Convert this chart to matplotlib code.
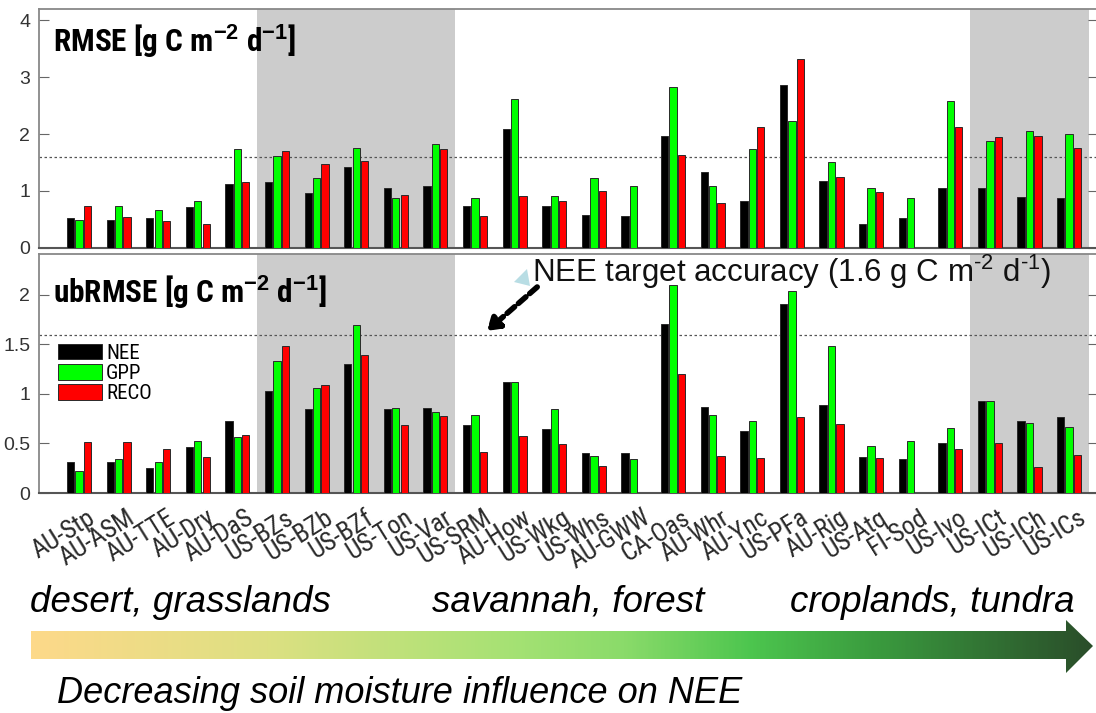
import os
import numpy as np
import matplotlib
matplotlib.use("Agg")
import matplotlib.pyplot as plt
from matplotlib import font_manager as fm
from matplotlib.patches import Polygon
from matplotlib.colors import LinearSegmentedColormap
from matplotlib.transforms import ScaledTranslation

# ---------------- data ----------------
sites = ["AU-Stp", "AU-ASM", "AU-TTE", "AU-Dry", "AU-DaS", "US-BZs", "US-BZb", "US-BZf",
         "US-Ton", "US-Var", "US-SRM", "AU-How", "US-Wkg", "US-Whs", "AU-GWW", "CA-Oas",
         "AU-Whr", "AU-Ync", "US-PFa", "AU-Rig", "US-Atq", "FI-Sod", "US-Ivo", "US-ICt",
         "US-ICh", "US-ICs"]

rmse_nee = [0.52, 0.48, 0.52, 0.72, 1.12, 1.15, 0.96, 1.42, 1.05, 1.08, 0.73, 2.09, 0.73,
            0.58, 0.55, 1.96, 1.33, 0.83, 2.87, 1.18, 0.41, 0.52, 1.05, 1.05, 0.89, 0.87]
rmse_gpp = [0.49, 0.73, 0.67, 0.83, 1.73, 1.62, 1.22, 1.75, 0.88, 1.83, 0.88, 2.62, 0.91,
            1.23, 1.08, 2.83, 1.08, 1.73, 2.23, 1.51, 1.05, 0.87, 2.59, 1.87, 2.05, 2.00]
rmse_reco = [0.73, 0.54, 0.47, 0.41, 1.16, 1.70, 1.47, 1.53, 0.92, 1.74, 0.55, 0.91, 0.82,
             0.99, np.nan, 1.63, 0.79, 2.13, 3.32, 1.25, 0.98, np.nan, 2.13, 1.95, 1.97, 1.75]

ub_nee = [0.31, 0.31, 0.25, 0.46, 0.73, 1.03, 0.85, 1.30, 0.85, 0.86, 0.69, 1.12, 0.65,
          0.40, 0.40, 1.71, 0.87, 0.63, 1.91, 0.89, 0.36, 0.34, 0.50, 0.93, 0.73, 0.77]
ub_gpp = [0.22, 0.34, 0.31, 0.52, 0.57, 1.33, 1.06, 1.70, 0.86, 0.82, 0.79, 1.12, 0.85,
          0.37, 0.34, 2.10, 0.79, 0.73, 2.04, 1.48, 0.47, 0.52, 0.66, 0.93, 0.71, 0.67]
ub_reco = [0.51, 0.51, 0.44, 0.36, 0.59, 1.48, 1.09, 1.39, 0.69, 0.78, 0.41, 0.58, 0.49,
           0.27, np.nan, 1.20, 0.37, 0.35, 0.77, 0.70, 0.35, np.nan, 0.44, 0.50, 0.26, 0.38]

series_names = ["NEE", "GPP", "RECO"]
series_colors = ["#000000", "#00ff00", "#ff0000"]
target = 1.6
shaded_blocks = [("US-BZs", "US-Var"), ("US-ICt", "US-ICs")]
zone_labels = ["desert, grasslands", "savannah, forest", "croplands, tundra"]
gradient_label = "Decreasing soil moisture influence on NEE"

# ---------------- fonts ----------------
plt.rcParams["font.family"] = ["Liberation Sans", "DejaVu Sans"]
plt.rcParams["mathtext.fontset"] = "custom"
plt.rcParams["mathtext.rm"] = "Liberation Sans"
plt.rcParams["mathtext.bf"] = "Liberation Sans:bold"


def _weight(f):
    w = f.weight
    if isinstance(w, str):
        w = fm.weight_dict.get(w, 400)
    return w


def find_condensed(bold):
    prefs = ["liberation sans narrow", "arial narrow", "roboto condensed", "open sans condensed",
             "noto sans", "dejavu sans", "lato", "inter"]
    best, best_rank = None, 99
    for f in fm.fontManager.ttflist:
        base = os.path.basename(f.fname).lower()
        nm = f.name.lower() + " " + base
        cond = ("narrow" in nm or ("condensed" in nm and "extra" not in nm and "semi" not in nm
                                   and "ultra" not in nm) or f.stretch == "condensed")
        if not cond or "mono" in nm or "serif" in nm.replace("sans", "") or "italic" in nm \
                or "oblique" in nm or f.style != "normal":
            continue
        if (_weight(f) >= 600) != bold:
            continue
        if not bold and _weight(f) < 350:
            continue
        if bold and _weight(f) > 750:
            continue
        rank = next((i for i, p in enumerate(prefs) if p in nm), 50)
        if rank < best_rank:
            best, best_rank = f.fname, rank
    return best


COND_REG = find_condensed(False)
COND_BOLD = find_condensed(True)


def cprop(size, bold=False):
    path = COND_BOLD if bold else COND_REG
    if path:
        return fm.FontProperties(fname=path, size=size)
    return fm.FontProperties(family="Liberation Sans", weight="bold" if bold else "normal",
                             size=size * 0.86)

# ---------------- layout ----------------
W, H = 1096, 713
fig = plt.figure(figsize=(W / 100, H / 100), dpi=100)


def box(l, t, r, b):
    return [l / W, 1 - b / H, (r - l) / W, (b - t) / H]


ax1 = fig.add_axes(box(38.6, 9, 1098, 247.7))
ax2 = fig.add_axes(box(38.6, 254.3, 1098, 493))

x = np.arange(len(sites))
off, bw = 0.212, 0.185

panels = [(ax1, (rmse_nee, rmse_gpp, rmse_reco), 4.2, [0, 1, 2, 3, 4], ["0", "1", "2", "3", "4"]),
          (ax2, (ub_nee, ub_gpp, ub_reco), 2.41, [0, 0.5, 1, 1.5, 2], ["0", "0.5", "1", "1.5", "2"])]

for ax, vals, ytop, yt, ytl in panels:
    for a, b in shaded_blocks:
        ax.axvspan(sites.index(a) - 0.5, sites.index(b) + 0.5, color="#cccccc", lw=0, zorder=0)
    for k, (v, c, n) in enumerate(zip(vals, series_colors, series_names)):
        ax.bar(x + (k - 1) * off, v, bw, color=c, edgecolor="#2a2a2a", linewidth=0.7,
               zorder=3, label=n)
    ax.axhline(target, color="#555555", ls=(0, (2, 2)), lw=0.9, zorder=2)
    ax.set_xlim(-1.02, 25.73)
    ax.set_ylim(0, ytop)
    ax.set_yticks(yt)
    ax.set_yticklabels(ytl)
    ax.tick_params(axis="y", direction="in", length=7, width=0.8, color="#666666",
                   labelsize=14, labelcolor="#333333", pad=6, right=True)
    ax.tick_params(axis="x", length=0)
    for s in ["top", "left", "right"]:
        ax.spines[s].set_color("#888888")
        ax.spines[s].set_linewidth(1.3)
    ax.spines["bottom"].set_color("#555555")
    ax.spines["bottom"].set_linewidth(1.5)

ax1.set_xticks([])
ax2.set_xticks(x)
ax2.set_xticklabels(sites, rotation=32, ha="right", va="top", rotation_mode="anchor",
                    fontproperties=cprop(18.5), color="#2a2a2a")
ax2.tick_params(axis="x", pad=9)
shift = ScaledTranslation(8 / 100, 0, fig.dpi_scale_trans)
for lab in ax2.get_xticklabels():
    lab.set_transform(lab.get_transform() + shift)

ax1.text(0.0137, 0.82, r"RMSE [g C m$^{\mathbf{-2}}$ d$^{\mathbf{-1}}$]",
         transform=ax1.transAxes, zorder=5, fontproperties=cprop(22.5, bold=True),
         va="baseline", ha="left")
ax2.text(0.0137, 0.796, r"ubRMSE [g C m$^{\mathbf{-2}}$ d$^{\mathbf{-1}}$]",
         transform=ax2.transAxes, zorder=5, fontproperties=cprop(22.5, bold=True),
         va="baseline", ha="left")

leg = ax2.legend(loc="upper left", bbox_to_anchor=(0.0183, 0.625), frameon=False,
                 prop=cprop(15), handlelength=2.1, handleheight=0.78,
                 handletextpad=0.2, labelspacing=0.05, borderpad=0, borderaxespad=0)

# target accuracy annotation
ax2.annotate("", xy=(10.30, 1.636), xytext=(11.57, 2.08),
             arrowprops=dict(arrowstyle="-|>,head_length=0.7,head_width=0.45", lw=4,
                             ls=(0, (1.8, 0.9)), color="black", shrinkA=0, shrinkB=0),
             zorder=6)
ax2.text(11.44, 2.13, r"NEE target accuracy (1.6 g C m$^{\text{-2}}$ d$^{\text{-1}}$)",
         fontsize=22.5, va="baseline", ha="left", zorder=6, color="#111111")

# ---------------- overlay: gradient arrow & texts ----------------
ov = fig.add_axes([0, 0, 1, 1])
ov.set_xlim(0, W)
ov.set_ylim(H, 0)
ov.axis("off")
ov.patch.set_alpha(0)

ov.add_patch(Polygon([(514, 282), (527, 269), (530, 286)], closed=True,
                     facecolor="#b8dde4", edgecolor="none"))

stops = [(0.0, "#fdd98a"), (0.22, "#dde082"), (0.45, "#a6e274"), (0.56, "#8adb6a"),
         (0.68, "#4cc54e"), (0.80, "#3a9a3e"), (1.0, "#2a4e2a")]
cmap = LinearSegmentedColormap.from_list("soil", stops)
arrow_pts = [(31, 631), (1066, 631), (1066, 620), (1093, 646), (1066, 673), (1066, 659), (31, 659)]
arrow = Polygon(arrow_pts, closed=True, facecolor="none", edgecolor="none")
ov.add_patch(arrow)
grad = np.linspace(0, 1, 600)[None, :]
im = ov.imshow(grad, extent=(31, 1093, 673, 620), aspect="auto", cmap=cmap,
               interpolation="bilinear")
im.set_clip_path(arrow)
ov.set_xlim(0, W)
ov.set_ylim(H, 0)

zone_x = [30, 432, 790]
for zx, zt in zip(zone_x, zone_labels):
    ov.text(zx, 612, zt, fontsize=26.5, style="italic", va="baseline", ha="left", color="black")
ov.text(57, 703, gradient_label, fontsize=26, style="italic", va="baseline", ha="left",
        color="black")

fig.savefig("out.png", dpi=100)
